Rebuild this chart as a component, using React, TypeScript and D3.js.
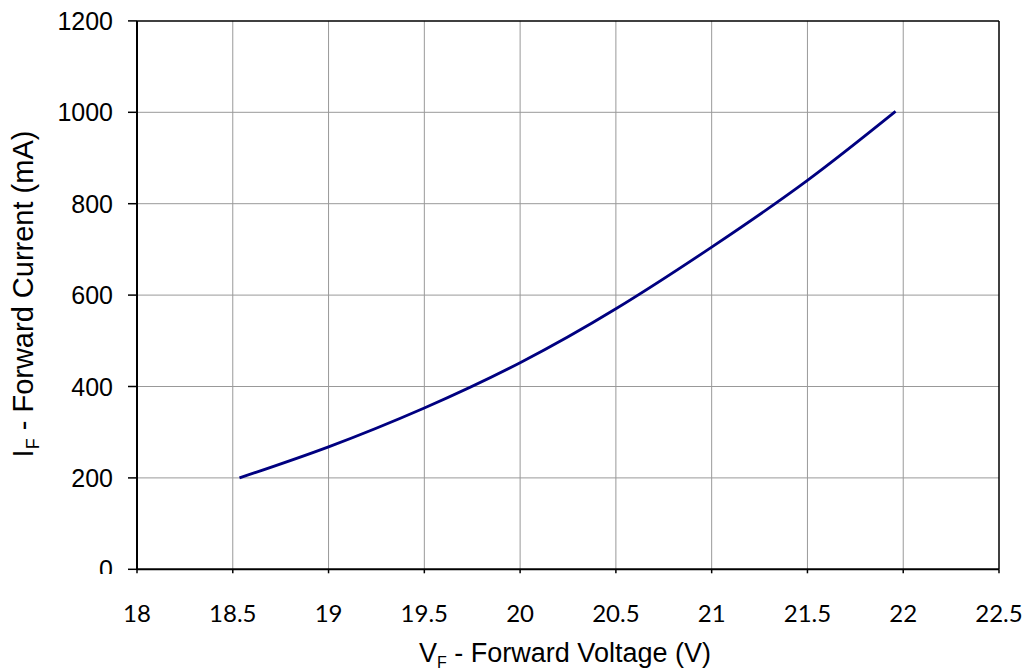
import React from "react";
import * as d3 from "d3";

const voltage = [18.535, 19, 19.5, 20, 20.5, 21, 21.5, 21.96];
const current = [200, 268, 353, 452, 570, 705, 851, 1002];
const xTicks = [18, 18.5, 19, 19.5, 20, 20.5, 21, 21.5, 22, 22.5];
const yTicks = [0, 200, 400, 600, 800, 1000, 1200];

const W = 1024;
const H = 672;
const left = 137;
const right = 999;
const top = 20.9;
const bottom = 569.3;

export default function App() {
  const x = d3.scaleLinear().domain([18, 22.5]).range([left, right]);
  const y = d3.scaleLinear().domain([0, 1200]).range([bottom, top]);
  const pts = voltage.map((v, i) => [v, current[i]] as [number, number]);
  const line = d3
    .line<[number, number]>()
    .x((d) => x(d[0]))
    .y((d) => y(d[1]))
    .curve(d3.curveNatural);
  const grid = "#999999";
  return (
    <svg
      width={W}
      height={H}
      style={{ position: "absolute", left: 0, top: 0, background: "#fff" }}
    >
      <defs>
        <clipPath id="ylabclip">
          <rect x={0} y={0} width={136} height={574} />
        </clipPath>
      </defs>
      <rect x={0} y={0} width={W} height={H} fill="#fff" />
      {/* gridlines */}
      {xTicks.slice(1, -1).map((t) => (
        <line key={"gx" + t} x1={x(t)} x2={x(t)} y1={top} y2={bottom} stroke={grid} strokeWidth={1} />
      ))}
      {yTicks.slice(1, -1).map((t) => (
        <line key={"gy" + t} x1={left} x2={right} y1={y(t)} y2={y(t)} stroke={grid} strokeWidth={1} />
      ))}
      {/* frame */}
      <line x1={left} x2={right} y1={top} y2={top} stroke="#000" strokeWidth={1.5} />
      <line x1={right} x2={right} y1={top} y2={bottom} stroke="#000" strokeWidth={1.5} />
      <line x1={left} x2={left} y1={top} y2={bottom} stroke="#000" strokeWidth={2} />
      <line x1={left} x2={right} y1={bottom} y2={bottom} stroke="#000" strokeWidth={2} />
      {/* y ticks */}
      {yTicks.map((t) => (
        <line key={"ty" + t} x1={128} x2={left} y1={y(t)} y2={y(t)} stroke="#000" strokeWidth={1.5} />
      ))}
      {/* x ticks */}
      {xTicks.map((t) => (
        <line key={"tx" + t} x1={x(t)} x2={x(t)} y1={bottom} y2={bottom + 4} stroke="#000" strokeWidth={1.5} />
      ))}
      {/* y labels */}
      <g clipPath="url(#ylabclip)">
        {yTicks.map((t) => (
          <text
            key={"ly" + t}
            x={113}
            y={y(t)}
            dy="0.36em"
            textAnchor="end"
            fontFamily="'Liberation Sans', Arial, sans-serif"
            fontSize={25}
            fill="#000"
          >
            {t}
          </text>
        ))}
      </g>
      {/* x labels */}
      {xTicks.map((t) => (
        <text
          key={"lx" + t}
          x={x(t)}
          y={622}
          textAnchor="middle"
          fontFamily="Lato, 'Liberation Sans', sans-serif"
          fontSize={24}
          fill="#000"
        >
          {String(t)}
        </text>
      ))}
      {/* curve */}
      <path d={line(pts) || ""} fill="none" stroke="#000080" strokeWidth={2.8} />
      {/* axis titles */}
      <text
        x={565}
        y={662}
        textAnchor="middle"
        fontFamily="'Liberation Sans', Arial, sans-serif"
        fontSize={27}
        fill="#000"
      >
        V<tspan fontSize={16} dy={6}>F</tspan>
        <tspan dy={-6}> - Forward Voltage (V)</tspan>
      </text>
      <text
        transform="translate(33,294) rotate(-90)"
        textAnchor="middle"
        fontFamily="'Liberation Sans', Arial, sans-serif"
        fontSize={29}
        fill="#000"
      >
        I<tspan fontSize={18} dy={6}>F</tspan>
        <tspan dy={-6}> - Forward Current (mA)</tspan>
      </text>
    </svg>
  );
}
